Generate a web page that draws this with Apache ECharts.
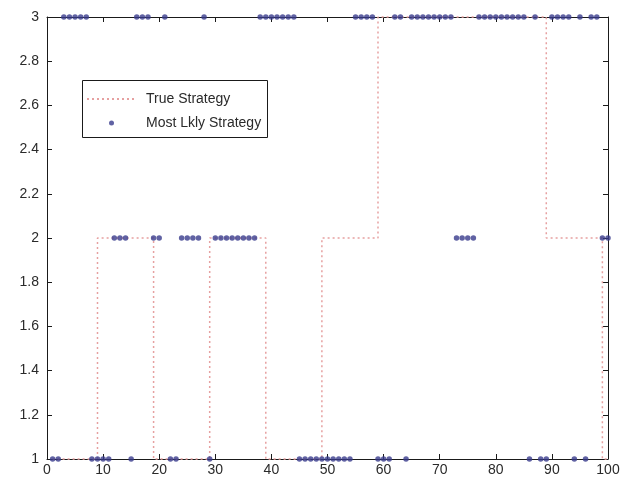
<!DOCTYPE html>
<html>
<head>
<meta charset="utf-8">
<script src="https://cdn.jsdelivr.net/npm/echarts@6/dist/echarts.min.js"></script>
<style>
  html, body { margin: 0; padding: 0; background: #fff; }
  #chart { width: 633px; height: 478px; }
</style>
</head>
<body>
<div id="chart"></div>
<script>
// Strategy index at each time step 1..100
const trueStrategy = [
  1, 1, 1, 1, 1, 1, 1, 1, 1,
  2, 2, 2, 2, 2, 2, 2, 2, 2, 2,
  1, 1, 1, 1, 1, 1, 1, 1, 1, 1,
  2, 2, 2, 2, 2, 2, 2, 2, 2, 2,
  1, 1, 1, 1, 1, 1, 1, 1, 1, 1,
  2, 2, 2, 2, 2, 2, 2, 2, 2, 2,
  3, 3, 3, 3, 3, 3, 3, 3, 3, 3,
  3, 3, 3, 3, 3, 3, 3, 3, 3, 3,
  3, 3, 3, 3, 3, 3, 3, 3, 3, 3,
  2, 2, 2, 2, 2, 2, 2, 2, 2, 2,
  1
];

const mostLikelyStrategy = [
  1, 1, 3, 3, 3, 3, 3, 1, 1, 1,
  1, 2, 2, 2, 1, 3, 3, 3, 2, 2,
  3, 1, 1, 2, 2, 2, 2, 3, 1, 2,
  2, 2, 2, 2, 2, 2, 2, 3, 3, 3,
  3, 3, 3, 3, 1, 1, 1, 1, 1, 1,
  1, 1, 1, 1, 3, 3, 3, 3, 1, 1,
  1, 3, 3, 1, 3, 3, 3, 3, 3, 3,
  3, 3, 2, 2, 2, 2, 3, 3, 3, 3,
  3, 3, 3, 3, 3, 1, 3, 1, 1, 3,
  3, 3, 3, 1, 3, 1, 3, 3, 2, 2
];

const xTicks = { min: 0, max: 100, interval: 10 };
const yTicks = { min: 1, max: 3, interval: 0.2 };

const seriesNames = ['True Strategy', 'Most Lkly Strategy'];

const toPoints = arr => arr.map((v, i) => [i + 1, v]);

const FONT = 'Liberation Sans';
const TEXT = '#2a2a2a';
const FRAME = '#1a1a1a';
const RED = '#e6a0a0';
const BLUE = '#383b8c';

const chart = echarts.init(document.getElementById('chart'), null, { renderer: 'canvas' });

const axisCommon = {
  type: 'value',
  axisLine: { show: true, onZero: false, lineStyle: { color: FRAME, width: 1 } },
  axisTick: { show: true, inside: true, length: 5, lineStyle: { color: FRAME } },
  splitLine: { show: false },
  axisLabel: { fontFamily: FONT, fontSize: 14, color: TEXT }
};

chart.setOption({
  animation: false,
  backgroundColor: '#fff',
  grid: { left: 47, right: 25, top: 17, bottom: 19 },
  xAxis: [
    Object.assign({}, axisCommon, {
      min: xTicks.min, max: xTicks.max, interval: xTicks.interval,
      position: 'bottom',
      axisLabel: Object.assign({}, axisCommon.axisLabel, { margin: 4 })
    }),
    Object.assign({}, axisCommon, {
      min: xTicks.min, max: xTicks.max, interval: xTicks.interval,
      position: 'top',
      axisLabel: { show: false }
    })
  ],
  yAxis: [
    Object.assign({}, axisCommon, {
      min: yTicks.min, max: yTicks.max, interval: yTicks.interval,
      position: 'left',
      axisLabel: Object.assign({}, axisCommon.axisLabel, { margin: 8 })
    }),
    Object.assign({}, axisCommon, {
      min: yTicks.min, max: yTicks.max, interval: yTicks.interval,
      position: 'right',
      axisLabel: { show: false }
    })
  ],
  graphic: [{
    type: 'rect',
    left: 82, top: 80,
    shape: { width: 185, height: 57 },
    style: { fill: '#fff', stroke: FRAME, lineWidth: 1 },
    z: 100
  }],
  legend: {
    orient: 'vertical',
    left: 86, top: 92,
    itemWidth: 49, itemHeight: 5,
    itemGap: 10,
    padding: 0,
    z: 101,
    textStyle: { fontFamily: FONT, fontSize: 14, color: TEXT, padding: [0, 0, 0, 5] },
    data: [
      { name: seriesNames[0], itemStyle: { opacity: 0 } },
      { name: seriesNames[1], icon: 'circle' }
    ]
  },
  series: [
    {
      name: seriesNames[0],
      type: 'line',
      step: 'start',
      data: toPoints(trueStrategy),
      showSymbol: false,
      symbol: 'none',
      clip: false,
      lineStyle: { color: RED, width: 1.5, type: [2, 3] },
      itemStyle: { color: RED },
      z: 3
    },
    {
      name: seriesNames[1],
      type: 'scatter',
      data: toPoints(mostLikelyStrategy),
      symbol: 'circle',
      symbolSize: 5.5,
      clip: false,
      itemStyle: { color: BLUE },
      z: 4
    }
  ]
});
</script>
</body>
</html>
